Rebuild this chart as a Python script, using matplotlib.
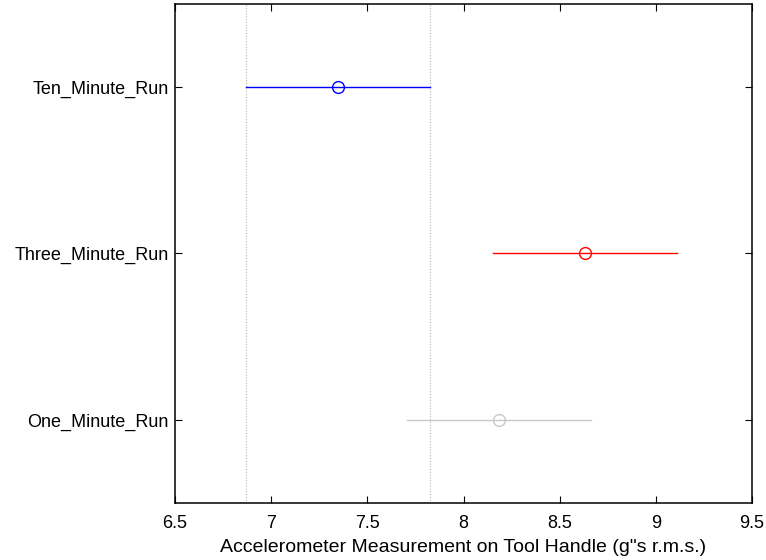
import matplotlib
matplotlib.use("Agg")
import matplotlib.pyplot as plt

plt.rcParams['font.family'] = ['Liberation Sans', 'DejaVu Sans']

groups = ["One_Minute_Run", "Three_Minute_Run", "Ten_Minute_Run"]
means = [8.183, 8.632, 7.349]
half_widths = [0.479, 0.480, 0.479]
colors = ["#c8c8c8", "#ff0000", "#0000ff"]
selected = 2  # Ten_Minute_Run is the highlighted group
xticks = [6.5, 7, 7.5, 8, 8.5, 9, 9.5]

fig = plt.figure(figsize=(7.66, 5.6), dpi=100)
ax = fig.add_axes([0.2285, 0.1018, 0.9817 - 0.2285, 0.9929 - 0.1018])

ypos = list(range(1, len(groups) + 1))

# reference lines at the selected group's interval bounds
lo = means[selected] - half_widths[selected]
hi = means[selected] + half_widths[selected]
for xv in (lo, hi):
    ax.axvline(xv, color="#b4b4b4", linestyle=(0, (1, 1.5)), linewidth=0.8, zorder=1)

for y, m, h, c in zip(ypos, means, half_widths, colors):
    ax.plot([m - h, m + h], [y, y], color=c, linewidth=1.0, zorder=2)
    ax.plot([m], [y], marker="o", markersize=8.5, markerfacecolor="none",
            markeredgecolor=c, markeredgewidth=1.0, linestyle="none", zorder=3)

fs = 13
ax.set_xlim(6.5, 9.5)
ax.set_ylim(0.5, 3.5)
ax.set_xticks(xticks)
ax.set_xticklabels([f"{t:g}" for t in xticks], fontsize=fs)
ax.set_yticks(ypos)
ax.set_yticklabels(groups, fontsize=fs)
ax.tick_params(direction="in", length=5, width=0.8, top=True, right=True)
ax.tick_params(axis="x", pad=9)
ax.tick_params(axis="y", pad=4.5)
for s in ax.spines.values():
    s.set_linewidth(1.1)
ax.set_xlabel("Accelerometer Measurement on Tool Handle (g\"s r.m.s.)", fontsize=14, labelpad=5)

fig.savefig("out.png", dpi=100)
